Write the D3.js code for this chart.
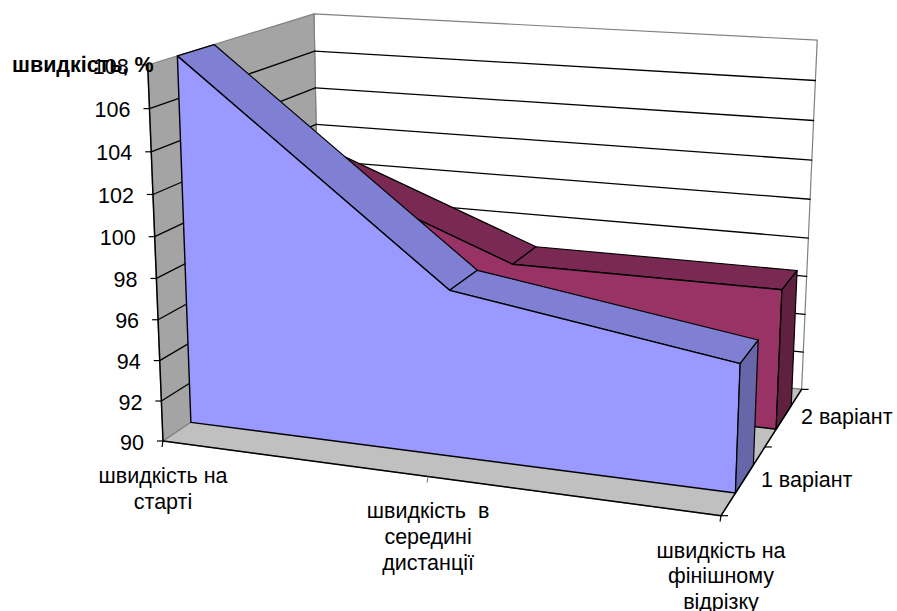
<!DOCTYPE html>
<html>
<head>
<meta charset="utf-8">
<script src="https://cdn.jsdelivr.net/npm/d3@7"></script>
<style>
  html, body { margin: 0; padding: 0; background: #fff; }
  text { font-family: "Liberation Sans", Arial, sans-serif; fill: #000; white-space: pre; }
</style>
</head>
<body>
<div id="chart"></div>
<script>
// data
var categories = [["швидкість на", "старті"], ["швидкість  в", "середині", "дистанції"], ["швидкість на", "фінішному", "відрізку"]];
var seriesNames = ["1 варіант", "2 варіант"];
var series1 = [108, 98, 96];
var series2 = [102, 97, 97];
var valueTicks = [90, 92, 94, 96, 98, 100, 102, 104, 106, 108];
var yTitle = "швидкість, %";

var width = 897, height = 611;

var svg = d3.select("#chart").append("svg")
  .attr("width", width)
  .attr("height", height)
  .style("display", "block");

// unit box scales: u along categories, v up the value axis, w into the depth
var u = d3.scalePoint().domain([0, 1, 2]).range([0, 1]);
var v = d3.scaleLinear().domain([90, 108]).range([0, 1]);
var w = d3.scaleLinear().domain([0, 2]).range([0, 1]);

// perspective: box corners on screen + how much each axis shrinks
var O = [163, 441], U = [721, 515.7], V = [147.7, 65], W = [320.2, 336];
var pU = -0.095, pV = -0.048, pW = 0.175;

function project(a, b, c) {
  var d = 1 + pU * a + pV * b + pW * c;
  return [0, 1].map(function(i) {
    return (O[i]
      + a * ((1 + pU) * U[i] - O[i])
      + b * ((1 + pV) * V[i] - O[i])
      + c * ((1 + pW) * W[i] - O[i])) / d;
  });
}

var line = d3.line();

function face(pts, fill, stroke, sw) {
  svg.append("path")
    .attr("d", line(pts.map(function(p) { return project(p[0], p[1], p[2]); })) + "Z")
    .attr("fill", fill)
    .attr("stroke", stroke)
    .attr("stroke-width", sw)
    .attr("stroke-linejoin", "round");
}

function seg(a, b, stroke, sw) {
  face([a, b], "none", stroke, sw);
}

// walls and floor
face([[0, 0, 1], [1, 0, 1], [1, 1, 1], [0, 1, 1]], "#fff", "#808080", 1.2);
face([[0, 0, 0], [0, 0, 1], [0, 1, 1], [0, 1, 0]], "#a4a4a4", "#808080", 1.2);
face([[0, 0, 0], [1, 0, 0], [1, 0, 1], [0, 0, 1]], "#c0c0c0", "#808080", 1.2);

// gridlines
valueTicks.slice(1, -1).forEach(function(t) {
  seg([0, v(t), 0], [0, v(t), 1], "#000", 1.3);
  seg([0, v(t), 1], [1, v(t), 1], "#000", 1.3);
});

// areas, back one first
var depths = [[0.155, 0.36], [0.645, 0.85]];
var styles = [
  {front: "#9999ff", top: "#7f7fd4", side: "#6666a8"},
  {front: "#993366", top: "#7a2a52", side: "#602040"}
];

[series2, series1].forEach(function(vals, k) {
  var idx = 1 - k, z0 = depths[idx][0], z1 = depths[idx][1], s = styles[idx];
  vals.forEach(function(d, i) {
    if (i === vals.length - 1) return;
    face([[u(i), v(d), z0], [u(i + 1), v(vals[i + 1]), z0], [u(i + 1), v(vals[i + 1]), z1], [u(i), v(d), z1]], s.top, "#000", 1.2);
  });
  var last = vals.length - 1;
  var front = [[0, 0, z0]].concat(vals.map(function(d, i) { return [u(i), v(d), z0]; }), [[1, 0, z0]]);
  face(front, s.front, "#000", 1.4);
  face([[1, 0, z0], [1, v(vals[last]), z0], [1, v(vals[last]), z1], [1, 0, z1]], s.side, "#000", 1.2);
});

// axis lines
seg([0, 0, 0], [0, 1, 0], "#000", 1.5);
seg([0, 0, 0], [1, 0, 0], "#000", 1.5);
seg([1, 0, 0], [1, 0, 1], "#000", 1.5);

// value axis ticks and labels
valueTicks.forEach(function(t) {
  var p = project(0, v(t), 0);
  svg.append("line")
    .attr("x1", p[0] - 6).attr("x2", p[0])
    .attr("y1", p[1]).attr("y2", p[1])
    .attr("stroke", "#000").attr("stroke-width", 1.2);
  svg.append("text")
    .attr("x", p[0] - 19)
    .attr("y", p[1] + 8.5)
    .attr("text-anchor", "end")
    .style("font-size", "21.5px")
    .text(t);
});

// title, sits on top of the 108 label like in the original
svg.append("text")
  .attr("x", 12)
  .attr("y", 72)
  .style("font-size", "21.5px")
  .style("font-weight", "bold")
  .text(yTitle);

// category ticks and labels
categories.forEach(function(lines, i) {
  var p = project(u(i), 0, 0);
  svg.append("line")
    .attr("x1", p[0]).attr("x2", p[0] - 1)
    .attr("y1", p[1]).attr("y2", p[1] + 6)
    .attr("stroke", i === 1 ? "#808080" : "#000").attr("stroke-width", 1.2);
  var t = svg.append("text").attr("text-anchor", "middle").style("font-size", "21.5px");
  lines.forEach(function(l, j) {
    t.append("tspan")
      .attr("x", p[0])
      .attr("y", p[1] + 42 + j * 25.7)
      .text(l);
  });
});

// series ticks and labels
[0, 1, 2].forEach(function(k) {
  var p = project(1, 0, w(k));
  svg.append("line")
    .attr("x1", p[0]).attr("x2", p[0] + 7)
    .attr("y1", p[1]).attr("y2", p[1])
    .attr("stroke", "#000").attr("stroke-width", 1.2);
});
seriesNames.forEach(function(name, k) {
  var p = project(1, 0, w(k + 0.5));
  svg.append("text")
    .attr("x", p[0] + 17)
    .attr("y", p[1] + 7.5)
    .style("font-size", "21.5px")
    .text(name);
});
</script>
</body>
</html>
